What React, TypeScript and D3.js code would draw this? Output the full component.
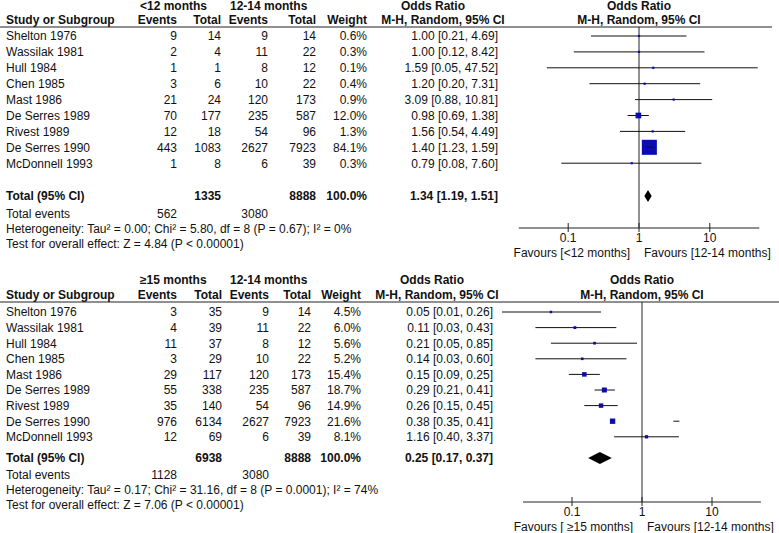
import React from "react";
import * as d3 from "d3";

// ---------- DATA ----------
const studies = [
  "Shelton 1976",
  "Wassilak 1981",
  "Hull 1984",
  "Chen 1985",
  "Mast 1986",
  "De Serres 1989",
  "Rivest 1989",
  "De Serres 1990",
  "McDonnell 1993",
];

// Reference group (12-14 months), common to both comparisons
const events1214 = [9, 11, 8, 10, 120, 235, 54, 2627, 6];
const total1214 = [14, 22, 12, 22, 173, 587, 96, 7923, 39];

// Comparison 1: <12 months vs 12-14 months
const eventsLt12 = [9, 2, 1, 3, 21, 70, 12, 443, 1];
const totalLt12 = [14, 4, 1, 6, 24, 177, 18, 1083, 8];
const weightTop = [0.6, 0.3, 0.1, 0.4, 0.9, 12.0, 1.3, 84.1, 0.3];
const orTop = [1.0, 1.0, 1.59, 1.2, 3.09, 0.98, 1.56, 1.4, 0.79];
const loTop = [0.21, 0.12, 0.05, 0.2, 0.88, 0.69, 0.54, 1.23, 0.08];
const hiTop = [4.69, 8.42, 47.52, 7.31, 10.81, 1.38, 4.49, 1.59, 7.6];
const pooledTop = { or: 1.34, lo: 1.19, hi: 1.51, total1: 1335, total2: 8888, events1: 562, events2: 3080 };
const hetTop = "Heterogeneity: Tau² = 0.00; Chi² = 5.80, df = 8 (P = 0.67); I² = 0%";
const testTop = "Test for overall effect: Z = 4.84 (P < 0.00001)";

// Comparison 2: >=15 months vs 12-14 months
const eventsGe15 = [3, 4, 11, 3, 29, 55, 35, 976, 12];
const totalGe15 = [35, 39, 37, 29, 117, 338, 140, 6134, 69];
const weightBottom = [4.5, 6.0, 5.6, 5.2, 15.4, 18.7, 14.9, 21.6, 8.1];
const orBottom = [0.05, 0.11, 0.21, 0.14, 0.15, 0.29, 0.26, 0.38, 1.16];
const loBottom = [0.01, 0.03, 0.05, 0.03, 0.09, 0.21, 0.15, 0.35, 0.4];
const hiBottom = [0.26, 0.43, 0.85, 0.6, 0.25, 0.41, 0.45, 0.41, 3.37];
const pooledBottom = { or: 0.25, lo: 0.17, hi: 0.37, total1: 6938, total2: 8888, events1: 1128, events2: 3080 };
const hetBottom = "Heterogeneity: Tau² = 0.17; Chi² = 31.16, df = 8 (P = 0.0001); I² = 74%";
const testBottom = "Test for overall effect: Z = 7.06 (P < 0.00001)";
const strayBottom = [{ row: 7, value: 3.1 }];

const axisTicks = [0.1, 1, 10];
const axisDomain = [0.02, 50];

// ---------- STYLE ----------
const FONT = "'Liberation Sans', Arial, Helvetica, sans-serif";
const FS = 12;
const BASE = 4.3; // baseline offset from text center
const BLUE = "#0b0bb0";

type Layout = {
  groupY: number; headY: number; lineY: number; lineX2: number;
  rowY0: number; rowStep: number; totalY: number; eventsY: number; hetY: number; testY: number;
  axisY: number; tickY: number; favY: number; center: number; decade: number;
  cols: { e1: number; t1: number; e2: number; t2: number; w: number; or: number };
  groupX: [number, number]; orHeadX: [number, number]; boxScale: number;
  groupLabel: string; favLeft: string;
};

const topLayout: Layout = {
  groupY: 6, headY: 20, lineY: 27, lineX2: 772,
  rowY0: 36, rowStep: 15.9, totalY: 196, eventsY: 214, hetY: 229, testY: 244,
  axisY: 228, tickY: 238, favY: 253, center: 639, decade: 70.8,
  cols: { e1: 177, t1: 221, e2: 268, t2: 316, w: 367, or: 498 },
  groupX: [140, 230], orHeadX: [433, 443], boxScale: 1.64,
  groupLabel: "<12 months", favLeft: "Favours [<12 months]",
};

const bottomLayout: Layout = {
  groupY: 280, headY: 295, lineY: 302, lineX2: 779,
  rowY0: 312, rowStep: 15.6, totalY: 458, eventsY: 475, hetY: 490, testY: 505,
  axisY: 502, tickY: 512, favY: 527, center: 642, decade: 70,
  cols: { e1: 177, t1: 222, e2: 269, t2: 311, w: 361, or: 493 },
  groupX: [140, 230], orHeadX: [432, 437], boxScale: 1.15,
  groupLabel: "≥15 months", favLeft: "Favours [ ≥15 months]",
};

const fmt2 = d3.format(".2f");
const fmt1 = d3.format(".1f");

function T({ x, y, children, anchor = "start", bold = false }: any) {
  return (
    <text x={x} y={y + BASE} textAnchor={anchor} fontWeight={bold ? "bold" : "normal"}>
      {children}
    </text>
  );
}

function Panel({ L, ev1, tot1, weight, or, lo, hi, pooled, het, test, stray }: any) {
  const half = Math.log10(axisDomain[1]) * L.decade;
  const x = d3.scaleLog().domain(axisDomain).range([L.center - half, L.center + half]);
  const rowY = (i: number) => L.rowY0 + i * L.rowStep;
  const c = L.cols;
  return (
    <g>
      {/* headers */}
      <T x={L.groupX[0]} y={L.groupY} bold>{L.groupLabel}</T>
      <T x={L.groupX[1]} y={L.groupY} bold>12-14 months</T>
      <T x={L.orHeadX[0]} y={L.groupY} anchor="middle" bold>Odds Ratio</T>
      <T x={L.center} y={L.groupY} anchor="middle" bold>Odds Ratio</T>
      <T x={6} y={L.headY} bold>Study or Subgroup</T>
      <T x={c.e1} y={L.headY} anchor="end" bold>Events</T>
      <T x={c.t1} y={L.headY} anchor="end" bold>Total</T>
      <T x={c.e2} y={L.headY} anchor="end" bold>Events</T>
      <T x={c.t2} y={L.headY} anchor="end" bold>Total</T>
      <T x={c.w} y={L.headY} anchor="end" bold>Weight</T>
      <T x={L.orHeadX[1]} y={L.headY} anchor="middle" bold>M-H, Random, 95% CI</T>
      <T x={L.center} y={L.headY} anchor="middle" bold>M-H, Random, 95% CI</T>
      <line x1={0} x2={L.lineX2} y1={L.lineY} y2={L.lineY} stroke="#222" strokeWidth={1.2} />

      {/* rows */}
      {studies.map((s, i) => (
        <g key={s}>
          <T x={6} y={rowY(i)}>{s}</T>
          <T x={c.e1} y={rowY(i)} anchor="end">{ev1[i]}</T>
          <T x={c.t1} y={rowY(i)} anchor="end">{tot1[i]}</T>
          <T x={c.e2} y={rowY(i)} anchor="end">{events1214[i]}</T>
          <T x={c.t2} y={rowY(i)} anchor="end">{total1214[i]}</T>
          <T x={c.w} y={rowY(i)} anchor="end">{fmt1(weight[i])}%</T>
          <T x={c.or} y={rowY(i)} anchor="end">{`${fmt2(or[i])} [${fmt2(lo[i])}, ${fmt2(hi[i])}]`}</T>
        </g>
      ))}

      {/* totals */}
      <T x={6} y={L.totalY} bold>Total (95% CI)</T>
      <T x={c.t1} y={L.totalY} anchor="end" bold>{pooled.total1}</T>
      <T x={c.t2} y={L.totalY} anchor="end" bold>{pooled.total2}</T>
      <T x={c.w} y={L.totalY} anchor="end" bold>100.0%</T>
      <T x={c.or} y={L.totalY} anchor="end" bold>{`${fmt2(pooled.or)} [${fmt2(pooled.lo)}, ${fmt2(pooled.hi)}]`}</T>
      <T x={6} y={L.eventsY}>Total events</T>
      <T x={c.e1} y={L.eventsY} anchor="end">{pooled.events1}</T>
      <T x={c.e2} y={L.eventsY} anchor="end">{pooled.events2}</T>
      <T x={6} y={L.hetY}>{het}</T>
      <T x={6} y={L.testY}>{test}</T>

      {/* forest */}
      <line x1={x(1)} x2={x(1)} y1={L.lineY} y2={L.axisY} stroke="#222" strokeWidth={1} />
      {studies.map((s, i) => {
        const side = Math.max(2.2, L.boxScale * Math.sqrt(weight[i]));
        const cx = x(or[i]);
        const ciW = x(hi[i]) - x(lo[i]);
        const ci = (
          <line x1={x(lo[i])} x2={x(hi[i])} y1={rowY(i)} y2={rowY(i)} stroke="#111" strokeWidth={1} />
        );
        const box = (
          <rect x={cx - side / 2} y={rowY(i) - side / 2} width={side} height={side} fill={BLUE} />
        );
        return side > ciW + 2 ? (
          <g key={s}>{box}{ci}</g>
        ) : (
          <g key={s}>{ci}{box}</g>
        );
      })}
      {stray.map((m: any, k: number) => (
        <line key={k} x1={x(m.value) - 3} x2={x(m.value) + 3} y1={rowY(m.row)} y2={rowY(m.row)} stroke="#111" strokeWidth={1} />
      ))}
      <polygon
        points={[
          [x(pooled.lo), L.totalY],
          [x(pooled.or), L.totalY - 6],
          [x(pooled.hi), L.totalY],
          [x(pooled.or), L.totalY + 6],
        ].map((p) => p.join(",")).join(" ")}
        fill="#000"
      />

      {/* axis */}
      <line x1={x(axisDomain[0])} x2={x(axisDomain[1])} y1={L.axisY} y2={L.axisY} stroke="#222" strokeWidth={1} />
      {axisTicks.map((t) => (
        <g key={t}>
          <line x1={x(t)} x2={x(t)} y1={L.axisY - 5} y2={L.axisY + 4} stroke="#222" strokeWidth={1} />
          <T x={x(t)} y={L.tickY} anchor="middle">{String(t)}</T>
        </g>
      ))}
      <T x={x(1) - 9} y={L.favY} anchor="end">{L.favLeft}</T>
      <T x={x(1) + 5} y={L.favY}>Favours [12-14 months]</T>
    </g>
  );
}

export default function App() {
  return (
    <svg
      width={779}
      height={533}
      style={{ position: "absolute", left: 0, top: 0, background: "#fff" }}
      fontFamily={FONT}
      fontSize={FS}
      fill="#111"
    >
      <rect width={779} height={533} fill="#fff" />
      <Panel
        L={topLayout}
        ev1={eventsLt12}
        tot1={totalLt12}
        weight={weightTop}
        or={orTop}
        lo={loTop}
        hi={hiTop}
        pooled={pooledTop}
        het={hetTop}
        test={testTop}
        stray={[]}
      />
      <Panel
        L={bottomLayout}
        ev1={eventsGe15}
        tot1={totalGe15}
        weight={weightBottom}
        or={orBottom}
        lo={loBottom}
        hi={hiBottom}
        pooled={pooledBottom}
        het={hetBottom}
        test={testBottom}
        stray={strayBottom}
      />
    </svg>
  );
}
